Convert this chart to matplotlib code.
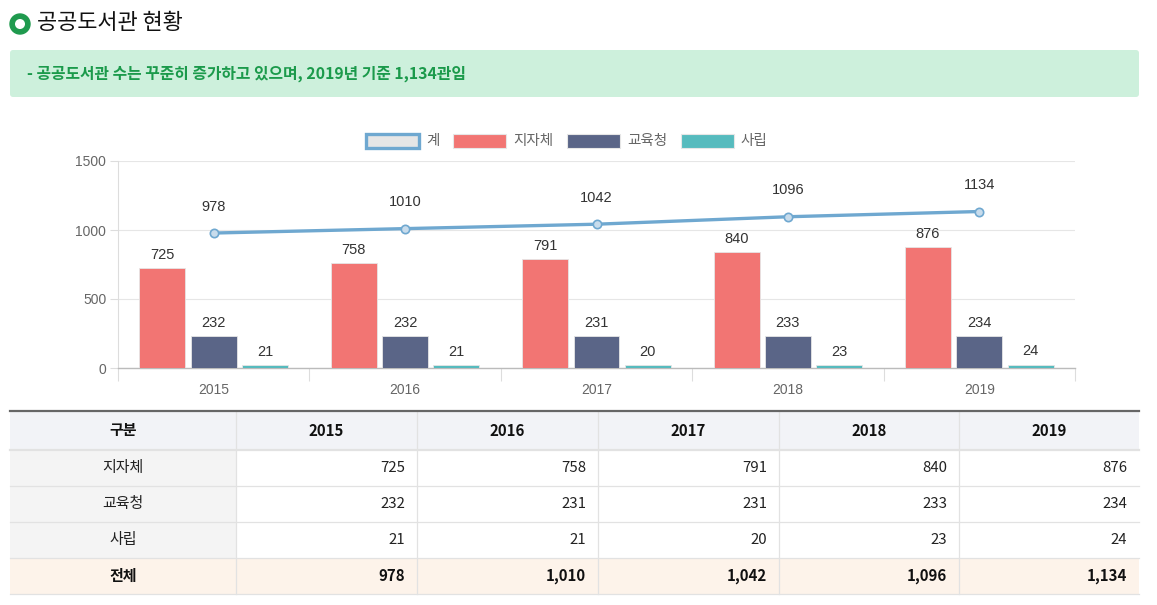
import numpy as np
import matplotlib
matplotlib.use("Agg")
import matplotlib.pyplot as plt
from matplotlib.patches import Rectangle, FancyBboxPatch, Circle

plt.rcParams['font.family'] = ['Noto Sans CJK KR', 'DejaVu Sans']

# ---- data ----
years = ["2015", "2016", "2017", "2018", "2019"]
series_names = ["계", "지자체", "교육청", "사립"]
total = [978, 1010, 1042, 1096, 1134]
local_gov = [725, 758, 791, 840, 876]
edu_office = [232, 232, 231, 233, 234]        # values as plotted in chart
private = [21, 21, 20, 23, 24]

# table values (as written in the table below the chart)
table_rows = ["지자체", "교육청", "사립"]
table_local = [725, 758, 791, 840, 876]
table_edu = [232, 231, 231, 233, 234]
table_private = [21, 21, 20, 23, 24]
table_total = [978, 1010, 1042, 1096, 1134]

title = "공공도서관 현황"
summary = "- 공공도서관 수는 꾸준히 증가하고 있으며, 2019년 기준 1,134관임"

C_LINE = "#6fa8d0"
C_LOCAL = "#f27573"
C_EDU = "#5a6587"
C_PRIV = "#56bbbe"
CHART_FONT = ['Liberation Sans', 'Noto Sans CJK KR', 'DejaVu Sans']
TFS = 10.8  # table font size

W, H = 1157, 605
fig = plt.figure(figsize=(W / 100, H / 100), dpi=100)

# overlay axes in pixel coordinates for title, banner and table
bg = fig.add_axes([0, 0, 1, 1])
bg.set_xlim(0, W)
bg.set_ylim(H, 0)
bg.axis("off")

# title with ring icon
bg.add_patch(Circle((20, 24), 10, color="#1f9a4e"))
bg.add_patch(Circle((20, 24), 4.3, color="white"))
bg.text(37, 23, title, fontsize=15.8, va="center", ha="left", color="#111111")

# banner
bg.add_patch(FancyBboxPatch((10, 50), 1129, 47, boxstyle="round,pad=0,rounding_size=3",
                            fc="#cdf0dc", ec="none"))
bg.text(27, 74, summary, fontsize=11.4, va="center", ha="left", color="#1b9a4b", weight="bold")

# ---- table ----
col_x = [10, 236, 417, 598, 779, 959, 1139]
row_y = [411, 450, 486, 522, 558, 594]
grid_c = "#e2e2e2"

# backgrounds
bg.add_patch(Rectangle((col_x[0], row_y[0]), col_x[-1] - col_x[0], row_y[1] - row_y[0],
                       fc="#f2f3f7", ec="none"))
for r in range(1, 4):
    bg.add_patch(Rectangle((col_x[0], row_y[r]), col_x[1] - col_x[0], row_y[r + 1] - row_y[r],
                           fc="#f4f4f4", ec="none"))
bg.add_patch(Rectangle((col_x[0], row_y[4]), col_x[-1] - col_x[0], row_y[5] - row_y[4],
                       fc="#fdf3ea", ec="none"))

# lines
for y in row_y[1:]:
    bg.plot([col_x[0], col_x[-1]], [y, y], color=grid_c, lw=0.9 if y != row_y[1] else 1.6)
for x in col_x[1:-1]:
    bg.plot([x, x], [row_y[0], row_y[-1]], color=grid_c, lw=0.9)
bg.plot([col_x[0], col_x[-1]], [row_y[0], row_y[0]], color="#666666", lw=1.6)

# header text
hdr_y = (row_y[0] + row_y[1]) / 2
bg.text((col_x[0] + col_x[1]) / 2, hdr_y, "구분", ha="center", va="center",
        fontsize=TFS, weight="bold", color="#111111")
for i, yr in enumerate(years):
    bg.text((col_x[i + 1] + col_x[i + 2]) / 2, hdr_y, yr, ha="center", va="center",
            fontsize=TFS, weight="bold", color="#111111")

body = [table_local, table_edu, table_private]
for r, (name, vals) in enumerate(zip(table_rows, body)):
    cy = (row_y[r + 1] + row_y[r + 2]) / 2
    bg.text((col_x[0] + col_x[1]) / 2, cy, name, ha="center", va="center",
            fontsize=TFS, color="#222222")
    for i, v in enumerate(vals):
        bg.text(col_x[i + 2] - 12, cy, f"{v:,}", ha="right", va="center",
                fontsize=TFS, color="#222222")

cy = (row_y[4] + row_y[5]) / 2
bg.text((col_x[0] + col_x[1]) / 2, cy, "전체", ha="center", va="center",
        fontsize=TFS, weight="bold", color="#111111")
for i, v in enumerate(table_total):
    bg.text(col_x[i + 2] - 12, cy, f"{v:,}", ha="right", va="center",
            fontsize=TFS, weight="bold", color="#111111")

# ---- chart ----
left, right, top, bottom = 118, 1075, 161, 368
ax = fig.add_axes([left / W, 1 - bottom / H, (right - left) / W, (bottom - top) / H])
ax.patch.set_alpha(0)

x = np.arange(len(years))
bw = 0.24
off = 0.268
bar_sets = [(local_gov, C_LOCAL, -off), (edu_office, C_EDU, 0.0), (private, C_PRIV, off)]
for vals, col, dx in bar_sets:
    ax.bar(x + dx, vals, bw, color=col, edgecolor="#e6e6e6", linewidth=0.6, zorder=3)
    for xi, v in zip(x + dx, vals):
        ax.annotate(str(v), (xi, v), xytext=(0, 9.5), textcoords="offset points",
                    ha="center", va="center", fontsize=10.5, color="#333333",
                    family=CHART_FONT)

ax.plot(x, total, color=C_LINE, lw=2.4, marker="o", markersize=6,
        markerfacecolor="#c8dcec", markeredgecolor=C_LINE, markeredgewidth=1.2,
        zorder=4, solid_capstyle="round")
for xi, v in zip(x, total):
    ax.annotate(str(v), (xi, v), xytext=(0, 19), textcoords="offset points",
                ha="center", va="center", fontsize=10.5, color="#333333",
                family=CHART_FONT)

ax.set_xlim(-0.5, len(years) - 0.5)
ax.set_ylim(0, 1500)
ax.set_yticks([0, 500, 1000, 1500])
ax.set_xticks(x)
ax.set_xticklabels(years)
ax.set_xticks(np.arange(len(years) + 1) - 0.5, minor=True)
ax.grid(axis="y", color="#e6e6e6", lw=0.8, zorder=0)
ax.tick_params(axis="x", which="major", length=0, pad=11, labelsize=10, labelcolor="#666666")
ax.tick_params(axis="x", which="minor", length=9, width=0.8, color="#dddddd")
ax.tick_params(axis="y", length=5.5, width=0.8, color="#dddddd", pad=3,
               labelsize=10, labelcolor="#666666")
for lab in ax.get_xticklabels() + ax.get_yticklabels():
    lab.set_family(CHART_FONT)
for s in ["top", "right"]:
    ax.spines[s].set_visible(False)
ax.spines["left"].set_color("#dddddd")
ax.spines["left"].set_linewidth(0.8)
ax.spines["bottom"].set_color("#bbbbbb")
ax.spines["bottom"].set_linewidth(1.0)

# legend
handles = [Rectangle((0, 0), 1, 1, fc="#e6e6e6", ec=C_LINE, lw=2.4),
           Rectangle((0, 0), 1, 1, fc=C_LOCAL, ec="#e6e6e6", lw=0.8),
           Rectangle((0, 0), 1, 1, fc=C_EDU, ec="#e6e6e6", lw=0.8),
           Rectangle((0, 0), 1, 1, fc=C_PRIV, ec="#e6e6e6", lw=0.8)]
leg = fig.legend(handles, series_names, loc="center", bbox_to_anchor=(567 / W, 1 - 141 / H),
                 ncol=4, frameon=False, handlelength=3.6, handleheight=1.1,
                 handletextpad=0.5, columnspacing=0.95,
                 prop={"family": CHART_FONT[1:], "size": 10.5})
for t in leg.get_texts():
    t.set_color("#666666")

fig.savefig("out.png", dpi=100)
